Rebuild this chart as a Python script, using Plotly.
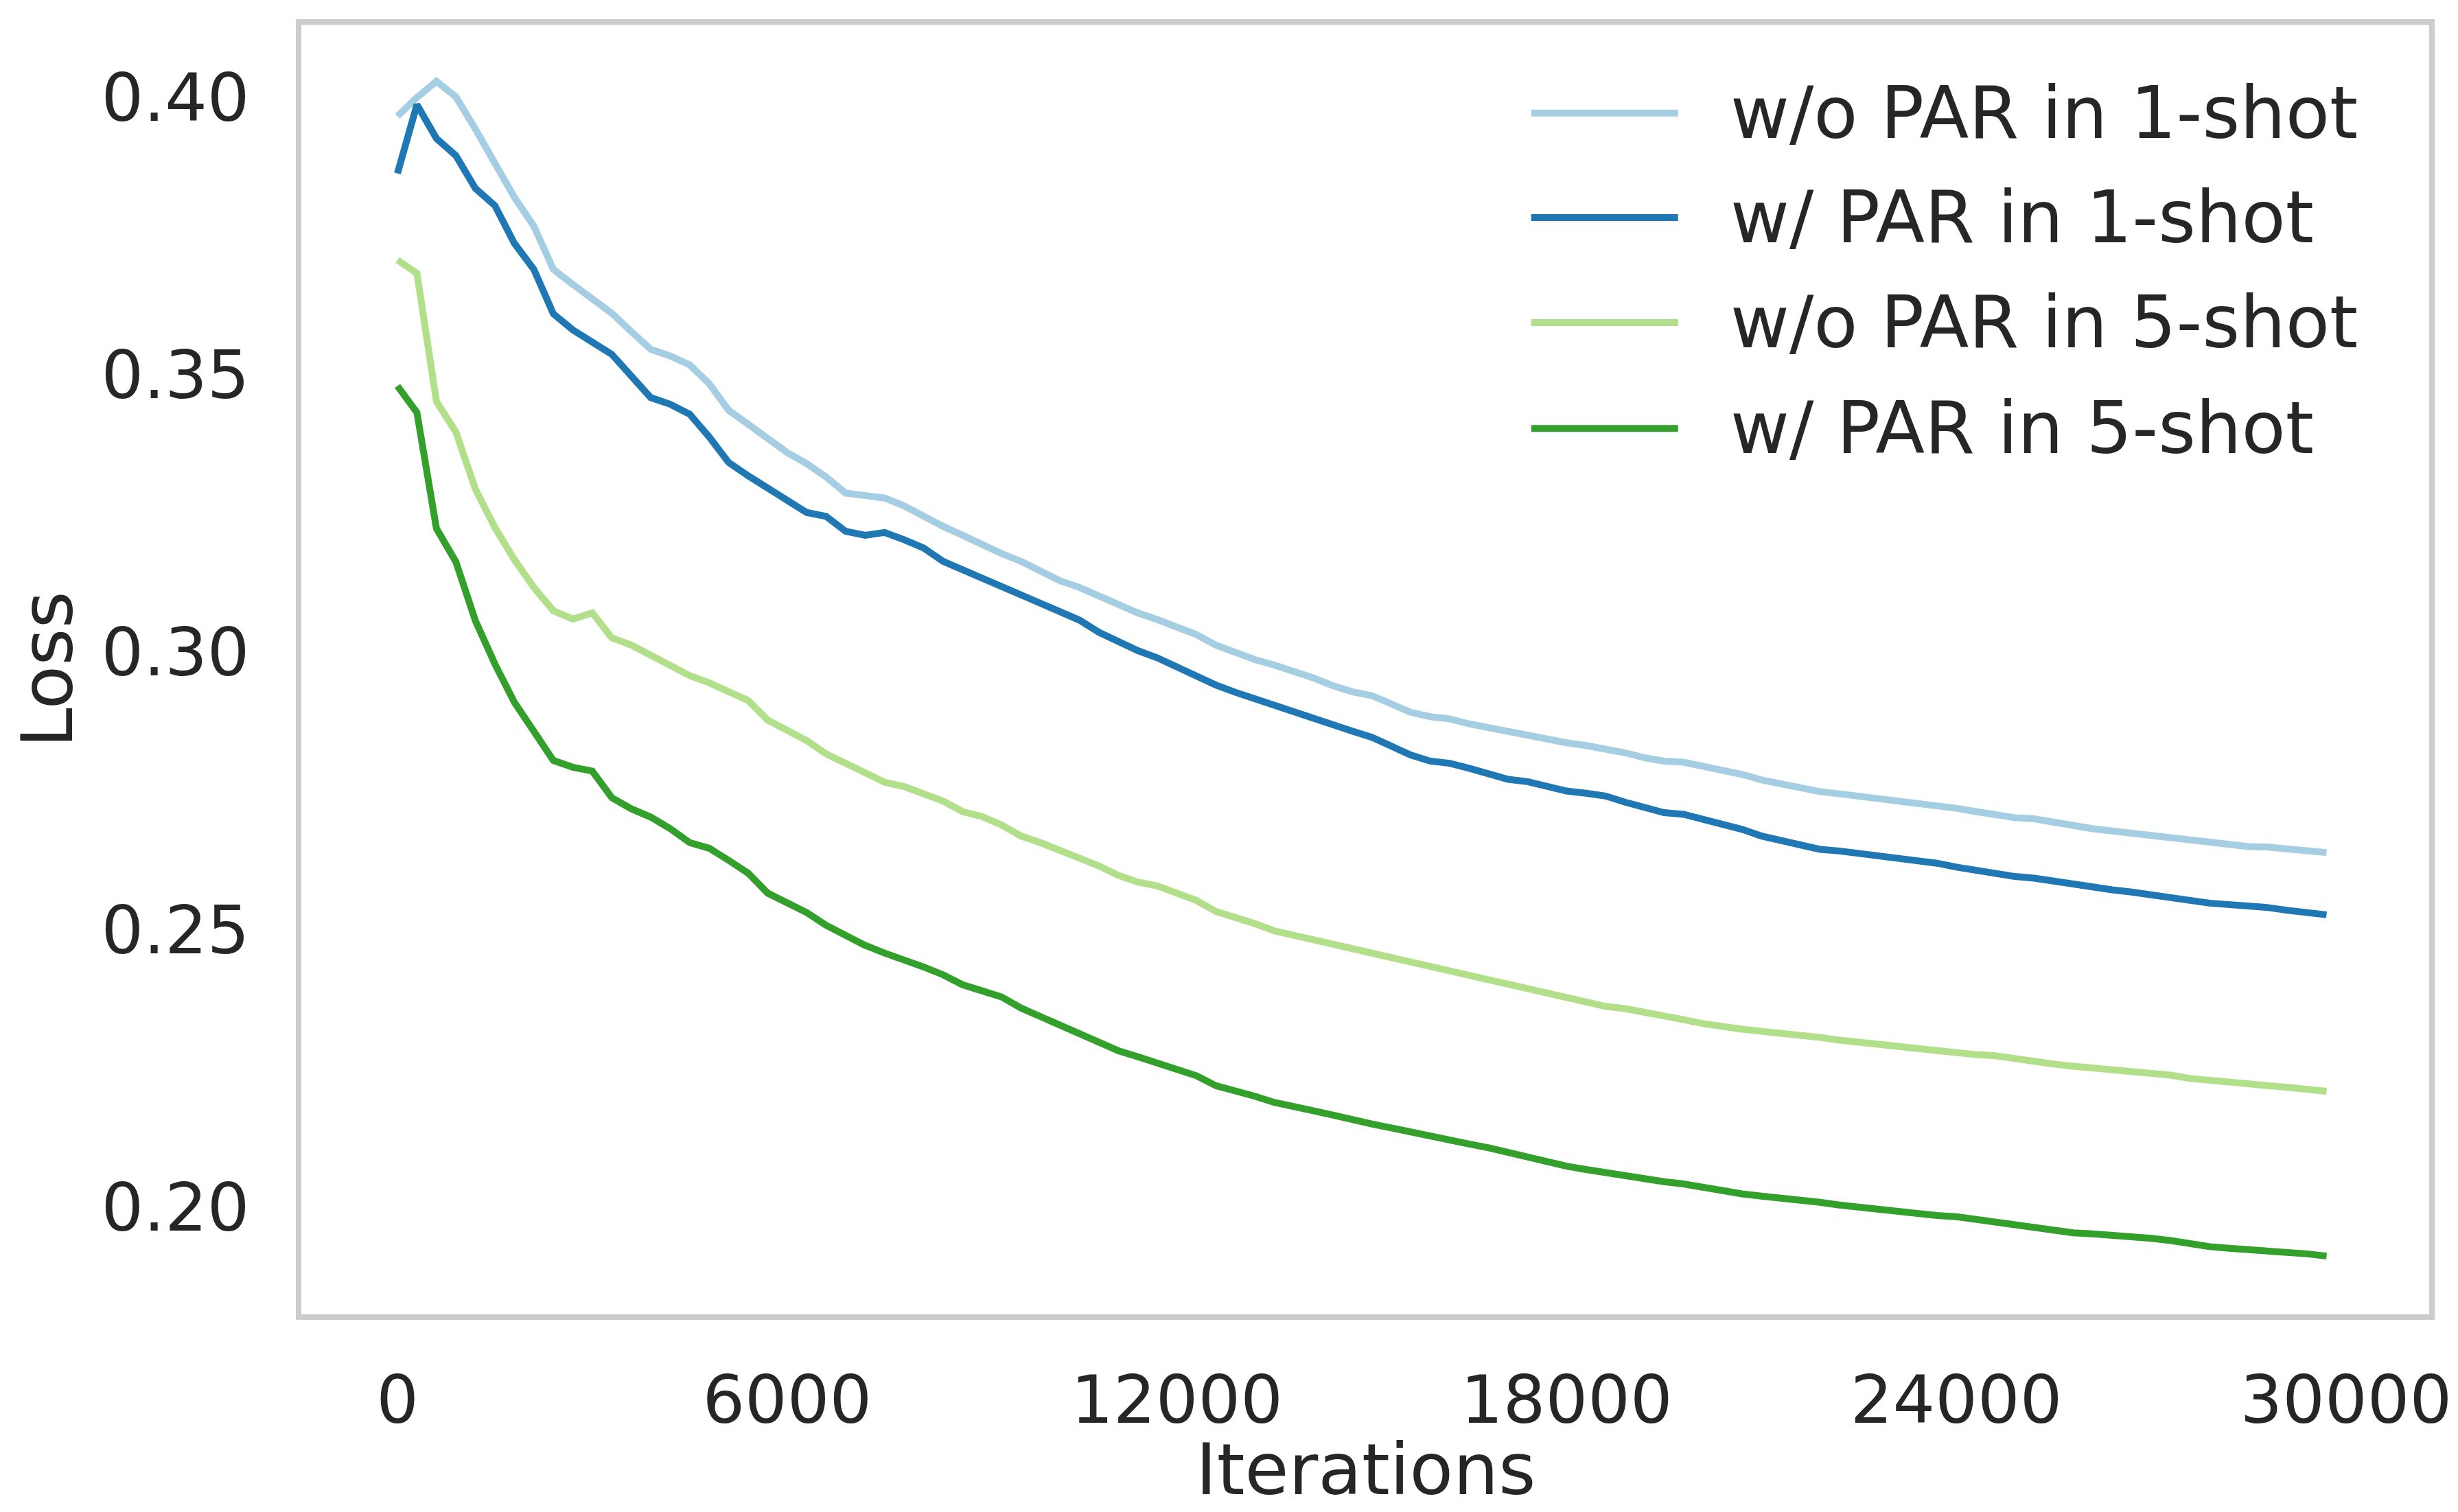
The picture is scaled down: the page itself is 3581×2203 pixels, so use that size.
import plotly.graph_objects as go

iterations = list(range(0, 30000, 300))

wo_par_1shot = [
    0.3966, 0.4000, 0.4029, 0.4001, 0.3943, 0.3883, 0.3820, 0.3768, 0.3690, 0.3663,
    0.3638, 0.3611, 0.3578, 0.3546, 0.3534, 0.3518, 0.3484, 0.3436, 0.3411, 0.3385,
    0.3360, 0.3340, 0.3316, 0.3287, 0.3282, 0.3278, 0.3264, 0.3245, 0.3227, 0.3211,
    0.3193, 0.3178, 0.3164, 0.3146, 0.3129, 0.3117, 0.3101, 0.3085, 0.3071, 0.3059,
    0.3045, 0.3032, 0.3013, 0.2999, 0.2987, 0.2977, 0.2967, 0.2954, 0.2940, 0.2929,
    0.2922, 0.2908, 0.2892, 0.2884, 0.2880, 0.2871, 0.2864, 0.2856, 0.2851, 0.2845,
    0.2837, 0.2832, 0.2827, 0.2819, 0.2810, 0.2804, 0.2802, 0.2795, 0.2788, 0.2780,
    0.2770, 0.2762, 0.2756, 0.2749, 0.2745, 0.2741, 0.2736, 0.2733, 0.2728, 0.2725,
    0.2719, 0.2713, 0.2706, 0.2702, 0.2700, 0.2693, 0.2688, 0.2682, 0.2678, 0.2674,
    0.2669, 0.2665, 0.2661, 0.2656, 0.2654, 0.2650, 0.2649, 0.2645, 0.2642, 0.2639,
]

w_par_1shot = [
    0.3863, 0.3987, 0.3926, 0.3895, 0.3836, 0.3805, 0.3737, 0.3690, 0.3610, 0.3581,
    0.3559, 0.3537, 0.3498, 0.3459, 0.3447, 0.3429, 0.3388, 0.3342, 0.3318, 0.3296,
    0.3271, 0.3252, 0.3245, 0.3218, 0.3211, 0.3216, 0.3203, 0.3188, 0.3164, 0.3149,
    0.3135, 0.3117, 0.3105, 0.3088, 0.3072, 0.3058, 0.3036, 0.3019, 0.3003, 0.2990,
    0.2973, 0.2958, 0.2941, 0.2928, 0.2916, 0.2903, 0.2892, 0.2882, 0.2869, 0.2858,
    0.2847, 0.2832, 0.2815, 0.2804, 0.2800, 0.2791, 0.2782, 0.2771, 0.2767, 0.2759,
    0.2750, 0.2746, 0.2741, 0.2730, 0.2719, 0.2711, 0.2708, 0.2699, 0.2691, 0.2681,
    0.2669, 0.2661, 0.2652, 0.2645, 0.2642, 0.2638, 0.2632, 0.2628, 0.2623, 0.2620,
    0.2613, 0.2607, 0.2600, 0.2596, 0.2593, 0.2587, 0.2581, 0.2576, 0.2572, 0.2568,
    0.2564, 0.2558, 0.2553, 0.2548, 0.2546, 0.2541, 0.2540, 0.2535, 0.2531, 0.2527,
]

wo_par_5shot = [
    0.3707, 0.3683, 0.3452, 0.3397, 0.3294, 0.3225, 0.3167, 0.3117, 0.3075, 0.3060,
    0.3071, 0.3026, 0.3013, 0.2995, 0.2978, 0.2958, 0.2945, 0.2928, 0.2913, 0.2878,
    0.2860, 0.2841, 0.2817, 0.2800, 0.2782, 0.2766, 0.2758, 0.2746, 0.2732, 0.2713,
    0.2704, 0.2689, 0.2669, 0.2657, 0.2644, 0.2631, 0.2615, 0.2598, 0.2586, 0.2579,
    0.2566, 0.2553, 0.2533, 0.2523, 0.2511, 0.2498, 0.2490, 0.2482, 0.2473, 0.2464,
    0.2457, 0.2449, 0.2442, 0.2431, 0.2424, 0.2418, 0.2410, 0.2401, 0.2394, 0.2384,
    0.2375, 0.2369, 0.2362, 0.2358, 0.2352, 0.2347, 0.2338, 0.2331, 0.2325, 0.2321,
    0.2317, 0.2314, 0.2310, 0.2306, 0.2301, 0.2297, 0.2293, 0.2290, 0.2287, 0.2284,
    0.2280, 0.2275, 0.2273, 0.2267, 0.2262, 0.2258, 0.2254, 0.2251, 0.2249, 0.2247,
    0.2243, 0.2238, 0.2232, 0.2228, 0.2225, 0.2223, 0.2219, 0.2216, 0.2212, 0.2209,
]

w_par_5shot = [
    0.3480, 0.3432, 0.3223, 0.3163, 0.3057, 0.2979, 0.2910, 0.2859, 0.2805, 0.2793,
    0.2786, 0.2738, 0.2718, 0.2703, 0.2682, 0.2657, 0.2647, 0.2625, 0.2602, 0.2566,
    0.2550, 0.2531, 0.2508, 0.2490, 0.2472, 0.2458, 0.2447, 0.2433, 0.2419, 0.2401,
    0.2390, 0.2379, 0.2359, 0.2344, 0.2330, 0.2314, 0.2300, 0.2282, 0.2271, 0.2260,
    0.2248, 0.2237, 0.2219, 0.2211, 0.2200, 0.2189, 0.2180, 0.2174, 0.2166, 0.2157,
    0.2150, 0.2143, 0.2135, 0.2127, 0.2120, 0.2114, 0.2107, 0.2098, 0.2090, 0.2081,
    0.2074, 0.2068, 0.2062, 0.2057, 0.2052, 0.2046, 0.2042, 0.2035, 0.2028, 0.2024,
    0.2020, 0.2017, 0.2013, 0.2009, 0.2004, 0.2000, 0.1996, 0.1991, 0.1990, 0.1985,
    0.1983, 0.1978, 0.1974, 0.1968, 0.1964, 0.1959, 0.1954, 0.1952, 0.1950, 0.1948,
    0.1944, 0.1940, 0.1933, 0.1929, 0.1926, 0.1924, 0.1922, 0.1918, 0.1916, 0.1912,
]

names = ["w/o PAR in 1-shot", "w/ PAR in 1-shot", "w/o PAR in 5-shot", "w/ PAR in 5-shot"]
colors = ["#a6cee3", "#1f78b4", "#b2df8a", "#33a02c"]
series = [wo_par_1shot, w_par_1shot, wo_par_5shot, w_par_5shot]

x_ticks = [0, 6000, 12000, 18000, 24000, 30000]
x_tick_labels = ["0", "6000", "12000", "18000", "24000", "30000"]
y_ticks = [0.20, 0.25, 0.30, 0.35, 0.40]

font = "DejaVu Sans"
text_color = "#262626"

fig = go.Figure()

for name, color, values in zip(names, colors, series):
    fig.add_trace(go.Scatter(
        x=iterations, y=values,
        mode="lines",
        name=name,
        line=dict(color=color, width=10),
        showlegend=False
    ))

# hand-made legend so the line samples are as long as in the original
legend_y = [0.9315, 0.8505, 0.769, 0.687]
for name, color, ly in zip(names, colors, legend_y):
    fig.add_shape(type="line", xref="paper", yref="paper",
                  x0=0.578, x1=0.647, y0=ly, y1=ly,
                  line=dict(color=color, width=10))
    fig.add_annotation(xref="paper", yref="paper", x=0.671, y=ly,
                       text=name, showarrow=False,
                       xanchor="left", yanchor="middle",
                       font=dict(family=font, size=105, color=text_color))

# x axis title as an annotation so it sits just above the bottom edge
fig.add_annotation(xref="paper", yref="paper", x=0.5, y=-0.1205,
                   text="Iterations", showarrow=False,
                   xanchor="center", yanchor="middle",
                   font=dict(family=font, size=104, color=text_color))

axis_common = dict(
    showgrid=False, zeroline=False,
    showline=True, mirror=True, linecolor="#cccccc", linewidth=8,
    ticks="outside", tickcolor="rgba(0,0,0,0)",
    tickfont=dict(family=font, size=97, color=text_color),
)

fig.update_xaxes(
    range=[-1480, 31280],
    tickvals=x_ticks,
    ticktext=x_tick_labels,
    ticklen=34,
    **axis_common
)
fig.update_yaxes(
    range=[0.1807, 0.4131],
    tickvals=y_ticks,
    tickformat=".2f",
    ticklen=48,
    title=dict(text="Loss", standoff=26,
               font=dict(family=font, size=104, color=text_color)),
    **axis_common
)

fig.update_layout(
    width=3581, height=2203,
    margin=dict(l=431, r=50, t=28, b=296),
    plot_bgcolor="white",
    paper_bgcolor="white",
    font=dict(family=font, color=text_color),
)

fig.write_html("out.html")
